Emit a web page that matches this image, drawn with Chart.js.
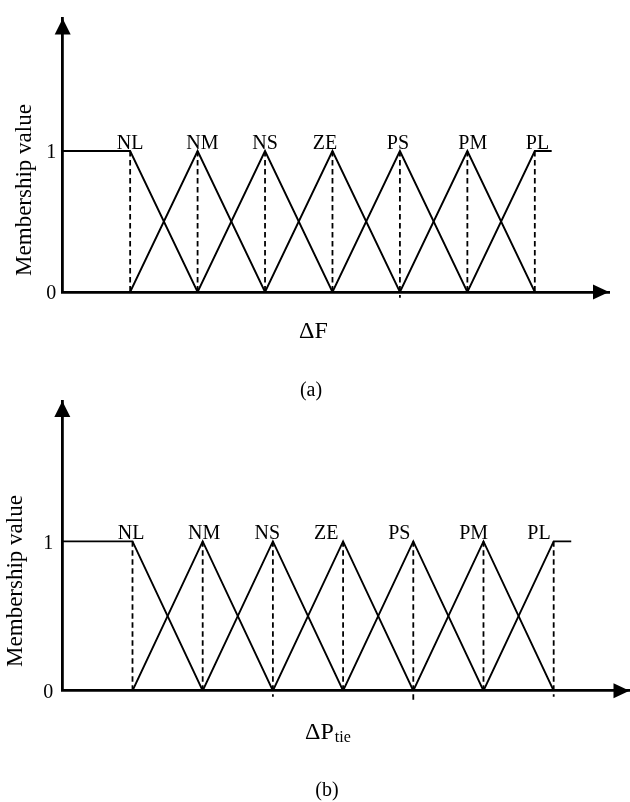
<!DOCTYPE html>
<html>
<head>
<meta charset="utf-8">
<script src="https://cdn.jsdelivr.net/npm/chart.js@4.4.1/dist/chart.umd.min.js"></script>
<style>
  html, body { margin: 0; padding: 0; background: #fff; }
  #wrap { position: relative; width: 630px; height: 802px; overflow: hidden; background: #fff; }
  canvas { position: absolute; left: 0; }
  #ca { top: 0; }
  #cb { top: 380px; }
</style>
</head>
<body>
<div id="wrap">
  <canvas id="ca" width="630" height="402"></canvas>
  <canvas id="cb" width="630" height="422"></canvas>
</div>
<script>
// Fuzzy sets and their membership function breakpoints
const categories = ['NL', 'NM', 'NS', 'ZE', 'PS', 'PM', 'PL'];
const peaks = [-3, -2, -1, 0, 1, 2, 3];
const plateauStart = -4;     // NL stays at 1 from the origin of the axis
const plateauEnd = 3.25;     // PL stays at 1 past its peak
const yTicks = [0, 1];

// Lower end of each dashed drop line (some run a little below the axis)
const dropFootA = [0, 0, 0, 0, -0.04, 0, 0];
const dropFootB = [0, 0, -0.04, 0, -0.06, 0, -0.04];

const SERIF = '"Liberation Serif", "Times New Roman", serif';

function membershipSets() {
  return categories.map((name, i) => {
    const p = peaks[i];
    let pts;
    if (i === 0) {
      pts = [{x: plateauStart, y: 1}, {x: p, y: 1}, {x: peaks[i + 1], y: 0}];
    } else if (i === categories.length - 1) {
      pts = [{x: peaks[i - 1], y: 0}, {x: p, y: 1}, {x: plateauEnd, y: 1}];
    } else {
      pts = [{x: peaks[i - 1], y: 0}, {x: p, y: 1}, {x: peaks[i + 1], y: 0}];
    }
    return {
      label: name,
      data: pts,
      showLine: true,
      borderColor: '#000',
      borderWidth: 1.9,
      pointRadius: 0,
      tension: 0,
      fill: false
    };
  });
}

function dropLines(foot) {
  return peaks.map((p, i) => ({
    label: categories[i] + ' drop',
    data: [{x: p, y: 1}, {x: p, y: foot[i]}],
    showLine: true,
    borderColor: '#000',
    borderWidth: 1.8,
    borderDash: [5.5, 3.5],
    pointRadius: 0,
    clip: false,
    fill: false
  }));
}

// Axis arrows, set names, axis titles and panel caption
const decorations = {
  id: 'decorations',
  afterDraw(chart, args, o) {
    const ctx = chart.ctx;
    const xs = chart.scales.x, ys = chart.scales.y;
    const area = chart.chartArea;
    ctx.save();
    ctx.fillStyle = '#000';

    // arrow heads
    const ax = xs.getPixelForValue(xs.min);
    ctx.beginPath();
    ctx.moveTo(ax, area.top);
    ctx.lineTo(ax - 8, area.top + 16);
    ctx.lineTo(ax + 8, area.top + 16);
    ctx.closePath();
    ctx.fill();
    const ay = ys.getPixelForValue(0);
    ctx.beginPath();
    ctx.moveTo(area.right, ay);
    ctx.lineTo(area.right - 16, ay - 7.5);
    ctx.lineTo(area.right - 16, ay + 7.5);
    ctx.closePath();
    ctx.fill();

    // set names above the peaks
    ctx.font = '20px ' + SERIF;
    ctx.textAlign = 'center';
    ctx.textBaseline = 'alphabetic';
    const top = ys.getPixelForValue(1);
    categories.forEach((name, i) => {
      ctx.fillText(name, xs.getPixelForValue(o.labelAt[i]), top - 2.5);
    });

    // vertical axis title
    ctx.save();
    ctx.font = '23px ' + SERIF;
    ctx.translate(o.yTitle.x, o.yTitle.y);
    ctx.rotate(-Math.PI / 2);
    ctx.textAlign = 'center';
    ctx.textBaseline = 'middle';
    ctx.fillText('Membership value', 0, 0);
    ctx.restore();

    // horizontal axis title
    ctx.textBaseline = 'alphabetic';
    ctx.font = '24px ' + SERIF;
    if (o.sub) {
      ctx.textAlign = 'left';
      ctx.fillText(o.xTitle, o.xTitlePos.x, o.xTitlePos.y);
      const w = ctx.measureText(o.xTitle).width;
      ctx.font = '16px ' + SERIF;
      ctx.fillText(o.sub, o.xTitlePos.x + w + 1, o.xTitlePos.y + 3);
    } else {
      ctx.textAlign = 'center';
      ctx.fillText(o.xTitle, o.xTitlePos.x, o.xTitlePos.y);
    }

    // caption
    ctx.font = '20px ' + SERIF;
    ctx.textAlign = 'center';
    ctx.textBaseline = 'middle';
    ctx.fillText(o.caption, o.captionPos.x, o.captionPos.y);
    ctx.restore();
  }
};

function makePanel(p) {
  return new Chart(document.getElementById(p.canvas), {
    type: 'scatter',
    data: { datasets: membershipSets().concat(dropLines(p.foot)) },
    plugins: [decorations],
    options: {
      responsive: false,
      animation: false,
      events: [],
      layout: { padding: { left: 0, right: p.padRight, top: p.padTop, bottom: 0 } },
      plugins: {
        legend: { display: false },
        tooltip: { enabled: false },
        decorations: p.deco
      },
      scales: {
        x: {
          type: 'linear',
          min: -4,
          max: p.xMax,
          ticks: { display: false },
          grid: { display: false, drawTicks: false },
          border: { display: true, color: '#000', width: 2.8 },
          afterFit(s) { s.height = p.xAxisHeight; }
        },
        y: {
          type: 'linear',
          min: 0,
          max: 1.94,
          afterBuildTicks(s) { s.ticks = yTicks.map(v => ({ value: v })); },
          ticks: { color: '#000', font: { family: SERIF, size: 20 }, padding: p.tickPad, labelOffset: 2 },
          grid: { display: false, drawTicks: false },
          border: { display: true, color: '#000', width: 2.8 },
          afterFit(s) { s.width = p.yAxisWidth; }
        }
      }
    }
  });
}

makePanel({
  canvas: 'ca',
  xMax: 4.1,
  padRight: 21,
  padTop: 7,
  xAxisHeight: 110,
  yAxisWidth: 62.7,
  tickPad: 6.5,
  foot: dropFootA,
  deco: {
    labelAt: [-3.0, -1.93, -1.0, -0.11, 0.97, 2.08, 3.04],
    yTitle: { x: 25, y: 190 },
    xTitle: '\u0394F',
    xTitlePos: { x: 313.5, y: 338 },
    caption: '(a)',
    captionPos: { x: 311, y: 391 }
  }
});

makePanel({
  canvas: 'cb',
  xMax: 4.08,
  padRight: 0.5,
  padTop: 10,
  xAxisHeight: 111.3,
  yAxisWidth: 62.3,
  tickPad: 9,
  foot: dropFootB,
  deco: {
    labelAt: [-3.02, -1.98, -1.08, -0.24, 0.80, 1.86, 2.79],
    yTitle: { x: 16, y: 201 },
    xTitle: '\u0394P',
    sub: 'tie',
    xTitlePos: { x: 305, y: 359.3 },
    caption: '(b)',
    captionPos: { x: 327, y: 411 }
  }
});
</script>
</body>
</html>
